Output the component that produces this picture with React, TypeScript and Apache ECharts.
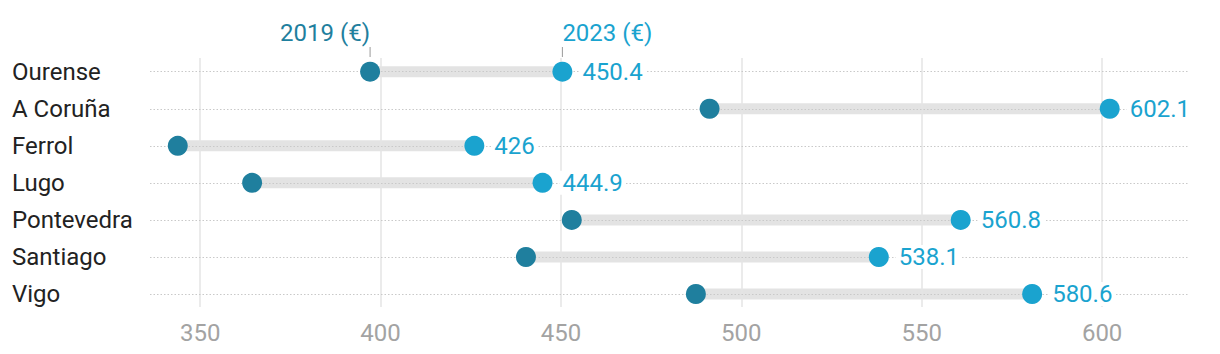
import React, { useEffect, useRef } from "react";
import * as echarts from "echarts";

const cities = ["Ourense", "A Coruña", "Ferrol", "Lugo", "Pontevedra", "Santiago", "Vigo"];
const values2019 = [397.1, 491.2, 343.8, 364.4, 453.0, 440.3, 487.4];
const values2023 = [450.4, 602.1, 426, 444.9, 560.8, 538.1, 580.6];
const xTicks = [350, 400, 450, 500, 550, 600];
const seriesNames = ["2019 (€)", "2023 (€)"];

const C2019 = "#1f7f9e";
const C2023 = "#1aa3cf";
const FONT = "Roboto";
const FS = 24;

export default function App() {
  const ref = useRef<HTMLDivElement>(null);
  useEffect(() => {
    if (!ref.current) return;
    const chart = echarts.init(ref.current, undefined, { renderer: "svg" });
    const idx = cities.map((_, i) => i);
    const option: any = {
      animation: false,
      textStyle: { fontFamily: FONT },
      grid: { left: 150, right: 32, top: 58, bottom: 47 },
      xAxis: {
        type: "value",
        min: 336.1,
        max: 623.8,
        axisLine: { show: false },
        axisTick: { show: false },
        splitLine: { show: false },
        axisLabel: {
          customValues: xTicks,
          color: "#a3a3a3",
          fontSize: FS,
          fontFamily: FONT,
          margin: 14,
        },
      },
      yAxis: {
        type: "value",
        inverse: true,
        min: -0.37,
        max: 6.35,
        axisLine: { show: false },
        axisTick: { show: false },
        splitLine: { show: false },
        axisLabel: {
          customValues: idx,
          formatter: (v: number) => cities[Math.round(v)] ?? "",
          align: "left",
          margin: 138,
          color: "#222222",
          fontSize: FS,
          fontFamily: FONT,
        },
      },
      series: [
        {
          type: "custom",
          z: 1,
          silent: true,
          data: cities.map((_, i) => [values2019[i], values2023[i], i]),
          encode: { x: [0, 1], y: 2 },
          renderItem: (params: any, api: any) => {
            const a = api.coord([api.value(0), api.value(2)]);
            const b = api.coord([api.value(1), api.value(2)]);
            return {
              type: "line",
              shape: { x1: a[0], y1: a[1], x2: b[0], y2: b[1] },
              style: { stroke: "#e3e3e3", lineWidth: 11 },
            };
          },
        },
        {
          type: "scatter",
          z: 2,
          silent: true,
          data: [],
          markLine: {
            z: 2,
            silent: true,
            symbol: "none",
            label: { show: false },
            emphasis: { disabled: true },
            data: [
              ...xTicks.map((v) => ({
                xAxis: v,
                lineStyle: { type: "solid", color: "#e4e4e4", width: 1.5 },
              })),
              ...idx.map((i) => ({
                yAxis: i,
                lineStyle: { type: [1.5, 2], color: "#c9c9c9", width: 1 },
              })),
            ],
          },
        },
        {
          name: seriesNames[0],
          type: "scatter",
          z: 3,
          silent: true,
          symbolSize: 20,
          itemStyle: { color: C2019, opacity: 1 },
          data: values2019.map((v, i) => [v, i]),
        },
        {
          name: seriesNames[1],
          type: "scatter",
          z: 3,
          silent: true,
          symbolSize: 20,
          itemStyle: { color: C2023, opacity: 1 },
          data: values2023.map((v, i) => [v, i]),
          label: {
            show: true,
            position: "right",
            distance: 7,
            formatter: (p: any) => String(values2023[p.dataIndex]),
            color: C2023,
            opacity: 1,
            fontSize: FS,
            fontFamily: FONT,
            backgroundColor: "#ffffff",
            padding: [0, 3, 0, 3],
          },
        },
        {
          type: "scatter",
          z: 3,
          silent: true,
          symbol: "rect",
          symbolSize: [1, 10],
          symbolOffset: [0, -19.7],
          itemStyle: { color: "#999999", opacity: 1 },
          data: [[values2019[0], 0]],
          label: {
            show: true,
            position: "top",
            distance: 2,
            align: "right",
            formatter: seriesNames[0],
            color: C2019,
            opacity: 1,
            fontSize: FS,
            fontFamily: FONT,
          },
        },
        {
          type: "scatter",
          z: 3,
          silent: true,
          symbol: "rect",
          symbolSize: [1, 10],
          symbolOffset: [0, -19.7],
          itemStyle: { color: "#999999", opacity: 1 },
          data: [[values2023[0], 0]],
          label: {
            show: true,
            position: "top",
            distance: 2,
            align: "left",
            formatter: seriesNames[1],
            color: C2023,
            opacity: 1,
            fontSize: FS,
            fontFamily: FONT,
          },
        },
      ],
    };
    chart.setOption(option);
    return () => chart.dispose();
  }, []);
  return (
    <div
      ref={ref}
      style={{ position: "fixed", left: 0, top: 0, width: 1220, height: 354, background: "#ffffff" }}
    />
  );
}
